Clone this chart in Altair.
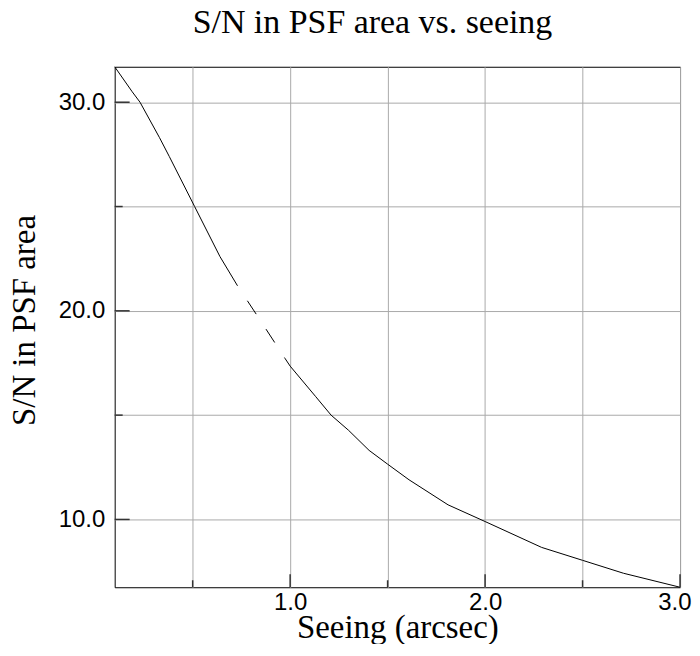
import altair as alt
import pandas as pd

title_text = "S/N in PSF area vs. seeing"
x_title = "Seeing (arcsec)"
y_title = "S/N in PSF area"

# curve, first solid piece
seeing_a = [0.10, 0.19, 0.23, 0.33, 0.38, 0.51, 0.64, 0.73]
sn_a = [31.7, 30.5, 30.0, 28.3, 27.4, 25.0, 22.6, 21.2]
# broken (dashed) piece
seeing_gap = [0.73, 0.85, 0.975]
sn_gap = [21.2, 19.5, 17.7]
# second solid piece
seeing_b = [0.975, 1.0, 1.13, 1.21, 1.30, 1.405, 1.5, 1.61, 1.81, 2.0, 2.29, 2.5, 2.71, 3.0]
sn_b = [17.7, 17.35, 15.9, 15.0, 14.27, 13.31, 12.65, 11.9, 10.7, 9.9, 8.66, 8.04, 7.42, 6.75]

x_grid = [0.5, 1.0, 1.5, 2.0, 2.5, 3.0]
x_major = [1.0, 2.0, 3.0]
x_minor = [0.5, 1.5, 2.5]
y_grid = [10, 15, 20, 25, 30]
y_major = [10, 20, 30]
y_minor = [15, 25]
x_domain = [0.1, 3.0]
y_domain = [6.75, 31.7]

W, H = 567, 522

xs = alt.Scale(domain=x_domain, nice=False, zero=False)
ys = alt.Scale(domain=y_domain, nice=False, zero=False)

solid_df = pd.DataFrame({
    "seeing": seeing_a + seeing_b,
    "sn": sn_a + sn_b,
    "part": ["a"] * len(seeing_a) + ["b"] * len(seeing_b),
})
gap_df = pd.DataFrame({"seeing": seeing_gap, "sn": sn_gap})

x_axis = alt.Axis(
    values=x_grid, grid=True, gridColor="#aaaaaa", gridWidth=1,
    ticks=False, domain=False,
    labelExpr="datum.value % 1 == 0 ? format(datum.value, '.1f') : ''",
    labelFont="Liberation Sans", labelFontSize=24, labelColor="black",
    labelPadding=3, labelFlush=True, labelFlushOffset=11, labelOverlap=False,
    title=x_title, titleFont="Liberation Serif", titleFontSize=33,
    titleFontWeight="normal", titleColor="black",
    titleBaseline="alphabetic", titleY=50,
)
y_axis = alt.Axis(
    values=y_grid, grid=True, gridColor="#aaaaaa", gridWidth=1,
    ticks=False, domain=False,
    labelExpr="datum.value % 10 == 0 ? format(datum.value, '.1f') : ''",
    labelFont="Liberation Sans", labelFontSize=24, labelColor="black",
    labelPadding=10, labelOverlap=False,
    title=y_title, titleFont="Liberation Serif", titleFontSize=33,
    titleFontWeight="normal", titleColor="black",
    titleAngle=270, titleAlign="center", titleBaseline="alphabetic",
    titleX=-80, titleY=254,
)

solid = alt.Chart(solid_df).mark_line(color="black", strokeWidth=1).encode(
    x=alt.X("seeing:Q", scale=xs, axis=x_axis),
    y=alt.Y("sn:Q", scale=ys, axis=y_axis),
    detail="part:N",
)
dashed = alt.Chart(gap_df).mark_line(
    color="black", strokeWidth=1, strokeDash=[16, 18], strokeDashOffset=16
).encode(
    x=alt.X("seeing:Q", scale=xs, axis=x_axis),
    y=alt.Y("sn:Q", scale=ys, axis=y_axis),
)

tick_color = "#333333"
ytick_major = alt.Chart(pd.DataFrame({"sn": y_major})).mark_rule(color=tick_color, strokeWidth=1.5).encode(
    y=alt.Y("sn:Q", scale=ys, axis=y_axis), x=alt.value(0), x2=alt.value(15))
ytick_minor = alt.Chart(pd.DataFrame({"sn": y_minor})).mark_rule(color=tick_color, strokeWidth=1.5).encode(
    y=alt.Y("sn:Q", scale=ys, axis=y_axis), x=alt.value(0), x2=alt.value(8))
xtick_major = alt.Chart(pd.DataFrame({"seeing": x_major})).mark_rule(color=tick_color, strokeWidth=1.5).encode(
    x=alt.X("seeing:Q", scale=xs, axis=x_axis), y=alt.value(H), y2=alt.value(H - 13))
xtick_minor = alt.Chart(pd.DataFrame({"seeing": x_minor})).mark_rule(color=tick_color, strokeWidth=1.5).encode(
    x=alt.X("seeing:Q", scale=xs, axis=x_axis), y=alt.value(H), y2=alt.value(H - 7))

chart = alt.layer(solid, dashed, ytick_major, ytick_minor, xtick_major, xtick_minor).properties(
    width=W, height=H,
    title=alt.Title(title_text, font="Liberation Serif", fontSize=34, fontWeight="normal",
                    color="black", anchor="middle", dx=-25, offset=25),
    autosize=alt.AutoSizeParams(type="none"),
    padding={"left": 107, "top": 58, "right": 12, "bottom": 56},
).configure_view(stroke="black", strokeWidth=1)

chart.save("out.html", embed_options={"renderer": "svg", "actions": False})
